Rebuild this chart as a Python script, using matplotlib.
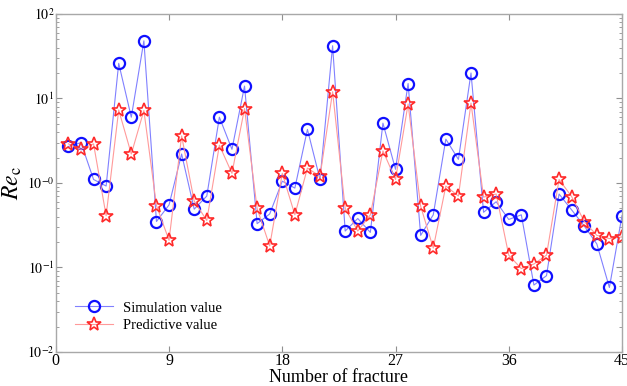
import numpy as np
import matplotlib
matplotlib.use('agg')
import matplotlib.pyplot as plt
from matplotlib.ticker import FixedLocator, LogLocator, NullFormatter

plt.rcParams['font.family'] = ['Liberation Serif', 'DejaVu Serif']
plt.rcParams['mathtext.fontset'] = 'stix'

# < -- Data

fracture = np.arange(1, 46)
simulation = [2.7, 3.0, 1.1, 0.92, 26, 6.0, 48, 0.35, 0.55, 2.2,
              0.49, 0.70, 6.0, 2.5, 14, 0.33, 0.43, 1.05, 0.87, 4.3,
              1.1, 42, 0.27, 0.38, 0.26, 5.1, 1.45, 15, 0.24, 0.42,
              3.3, 1.9, 20, 0.45, 0.60, 0.37, 0.42, 0.062, 0.080, 0.74,
              0.48, 0.31, 0.19, 0.058, 0.41]
predictive = [2.9, 2.5, 2.9, 0.41, 7.3, 2.2, 7.2, 0.54, 0.21, 3.6,
              0.61, 0.36, 2.8, 1.3, 7.6, 0.50, 0.18, 1.3, 0.42, 1.5,
              1.2, 12, 0.50, 0.27, 0.42, 2.4, 1.1, 8.6, 0.53, 0.17,
              0.92, 0.70, 8.8, 0.68, 0.74, 0.14, 0.097, 0.11, 0.14, 1.1,
              0.69, 0.35, 0.24, 0.22, 0.23]
xticks = [0, 9, 18, 27, 36, 45]
yticks = [1e-2, 1e-1, 1e0, 1e1, 1e2]
ytick_labels = [r'$10^{-2}$', r'$10^{-1}$', r'$10^{-0}$', r'$10^{1}$', r'$10^{2}$']

# < -- Plot

fig = plt.figure(figsize=(6.27, 3.86), dpi=100)
ax = fig.add_axes([0.089, 0.088, 0.903, 0.876])

ax.plot(fracture, simulation, color='#8080ff', lw=0.8, marker='o',
        ms=8, mfc='none', mec='#1010ff', mew=1.6, label='Simulation value')
ax.plot(fracture, predictive, color='#ff9a9a', lw=0.8, marker='*',
        ms=10, mfc='none', mec='#ff2a2a', mew=1.2, label='Predictive value')

ax.set_yscale('log')
ax.set_xlim(0, 45)
ax.set_ylim(1e-2, 1e2)
ax.xaxis.set_major_locator(FixedLocator(xticks))
ax.set_xticklabels([str(t) for t in xticks])
ax.yaxis.set_major_locator(FixedLocator(yticks))
ax.set_yticklabels(ytick_labels)
ax.yaxis.set_minor_locator(LogLocator(base=10, subs=np.arange(2, 10)))
ax.yaxis.set_minor_formatter(NullFormatter())

for s in ax.spines.values():
    s.set_color('#a8a8a8')
    s.set_linewidth(1.0)
ax.tick_params(which='both', direction='in', top=True, right=True,
               color='#909090')
ax.tick_params(axis='x', labelsize=11.5, length=4, pad=1)
ax.tick_params(axis='y', which='major', labelsize=10, length=4, pad=1)
ax.tick_params(axis='y', which='minor', length=2)

ax.set_xlabel('Number of fracture', fontsize=13, labelpad=0)
ax.set_ylabel(r'$\mathit{Re}_{\mathrm{c}}$', fontsize=17, labelpad=2)

ax.legend(loc='lower left', bbox_to_anchor=(0.01, 0.02), frameon=False,
          fontsize=10.5, handlelength=2.6, labelspacing=0.3, handletextpad=0.7)

fig.savefig('out.png', dpi=100)
plt.close(fig)
